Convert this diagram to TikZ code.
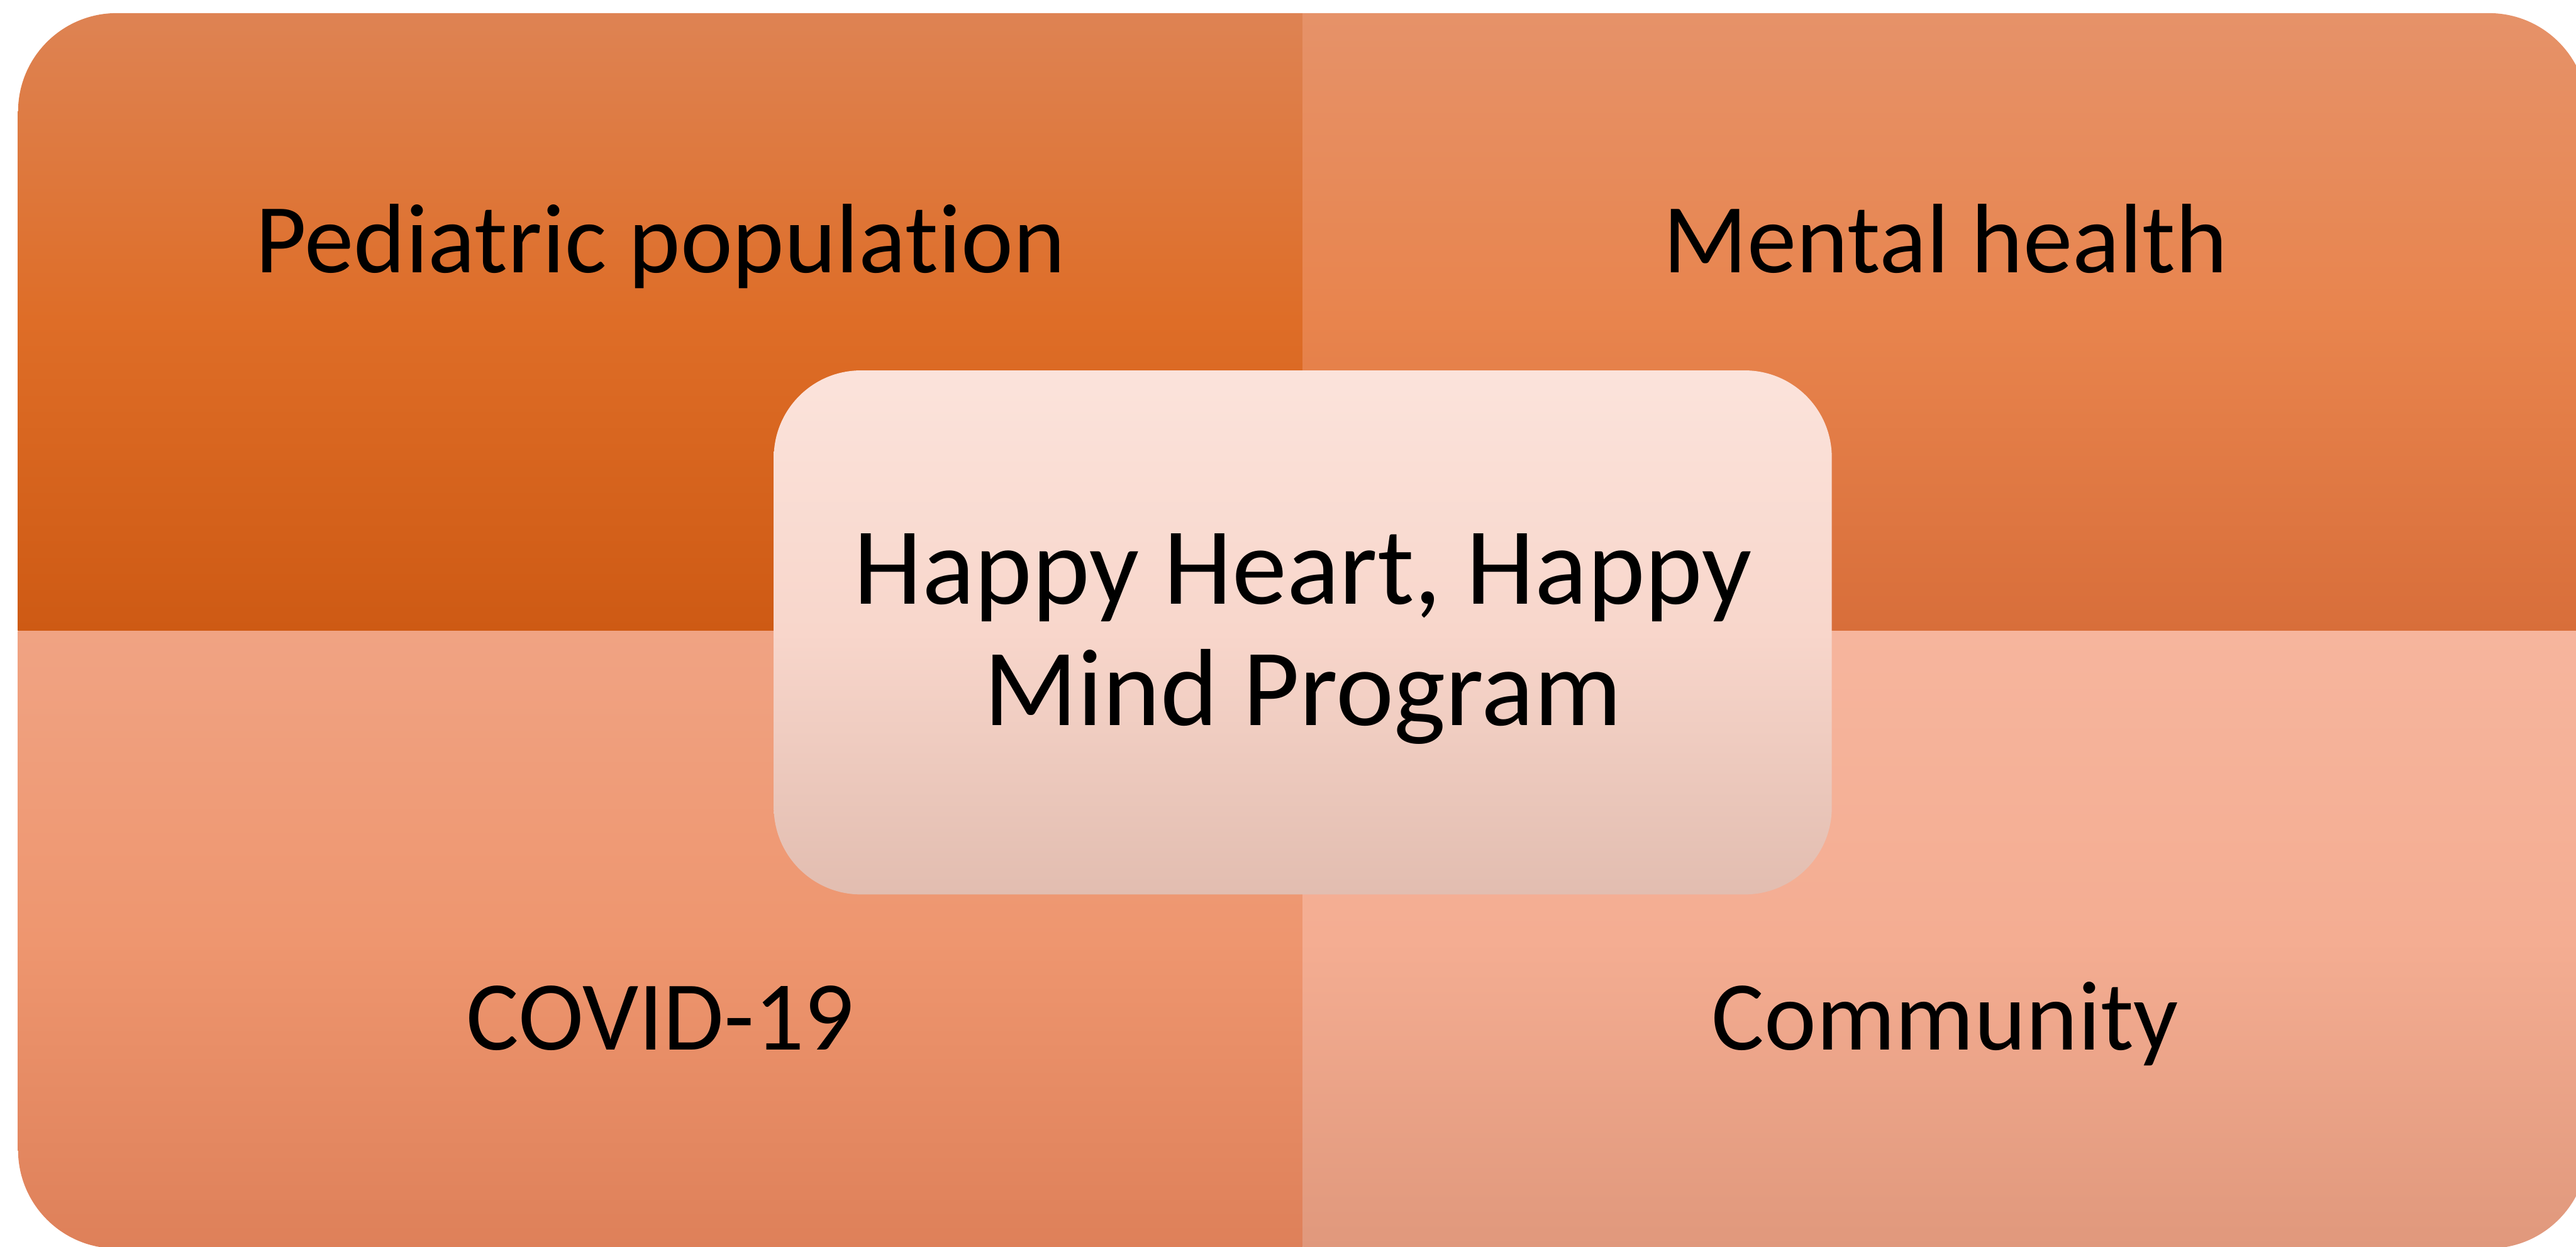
\documentclass[tikz,border=0pt]{standalone}
\usepackage{fontspec}
\setmainfont[Ligatures={NoCommon,NoRare,NoContextual}]{Carlito}
\usepackage{xcolor}
\usepackage{tikz}
\usetikzlibrary{positioning}
% quadrant gradients (top / middle / bottom)
\definecolor{pedtop}{HTML}{DE8353}
\definecolor{pedmid}{HTML}{DE6D27}
\definecolor{pedbot}{HTML}{CE5A14}
\definecolor{mentop}{HTML}{E69269}
\definecolor{menmid}{HTML}{E8844D}
\definecolor{menbot}{HTML}{D86E3A}
\definecolor{covtop}{HTML}{F0A383}
\definecolor{covmid}{HTML}{EE966F}
\definecolor{covbot}{HTML}{DE8059}
\definecolor{comtop}{HTML}{F6B59D}
\definecolor{commid}{HTML}{F4AD92}
\definecolor{combot}{HTML}{E0987C}
\definecolor{hubtop}{HTML}{FBE3DB}
\definecolor{hubmid}{HTML}{F8D6CB}
\definecolor{hubbot}{HTML}{E2BDB0}

\tikzset{
  celltext/.style={font=\fontsize{17.1}{20.5}\selectfont, text=black, anchor=base, inner sep=0pt},
  hubbox/.style={rounded corners=0.53cm, minimum width=6.44cm, minimum height=3.19cm,
    top color=hubtop, bottom color=hubbot, middle color=hubmid, inner sep=0pt},
  hubtext/.style={font=\fontsize{19}{21}\selectfont, text=black, align=center, inner sep=0pt}
}

\begin{document}
\begin{tikzpicture}
    \useasboundingbox (0,0) rectangle (15.68,7.59);
    \clip (0,0) rectangle (15.68,7.59);

    % Quadrants, each with one rounded outer corner
    \path[top color=pedtop, bottom color=pedbot, middle color=pedmid]
      (7.93,3.75) -- (0.11,3.75) -- (0.11,6.91)
      arc[start angle=180, end angle=90, radius=0.6] -- (7.93,7.51) -- cycle;
    \path[top color=mentop, bottom color=menbot, middle color=menmid]
      (7.93,3.75) -- (7.93,7.51) -- (15.15,7.51)
      arc[start angle=90, end angle=0, radius=0.6] -- (15.75,3.75) -- cycle;
    \path[top color=covtop, bottom color=covbot, middle color=covmid]
      (7.93,3.75) -- (0.11,3.75) -- (0.11,0.59)
      arc[start angle=180, end angle=270, radius=0.6] -- (7.93,-0.01) -- cycle;
    \path[top color=comtop, bottom color=combot, middle color=commid]
      (7.93,3.75) -- (15.75,3.75) -- (15.75,0.59)
      arc[start angle=0, end angle=-90, radius=0.6] -- (7.93,-0.01) -- cycle;

    % Labels
    \foreach \x/\y/\name/\txt in {4.02/5.93/ped/Pediatric population,
                                  11.84/5.93/men/Mental health,
                                  4.02/1.20/cov/COVID-19,
                                  11.84/1.20/com/Community}
      \node[celltext] (\name) at (\x,\y) {\txt};

    % Centre box
    \node[hubbox] (hub) at (7.93,3.74) {};
    \node[hubtext] (hubtext) at ([yshift=-0.04cm]hub.center) {Happy Heart, Happy\\Mind Program};
\end{tikzpicture}
\end{document}
